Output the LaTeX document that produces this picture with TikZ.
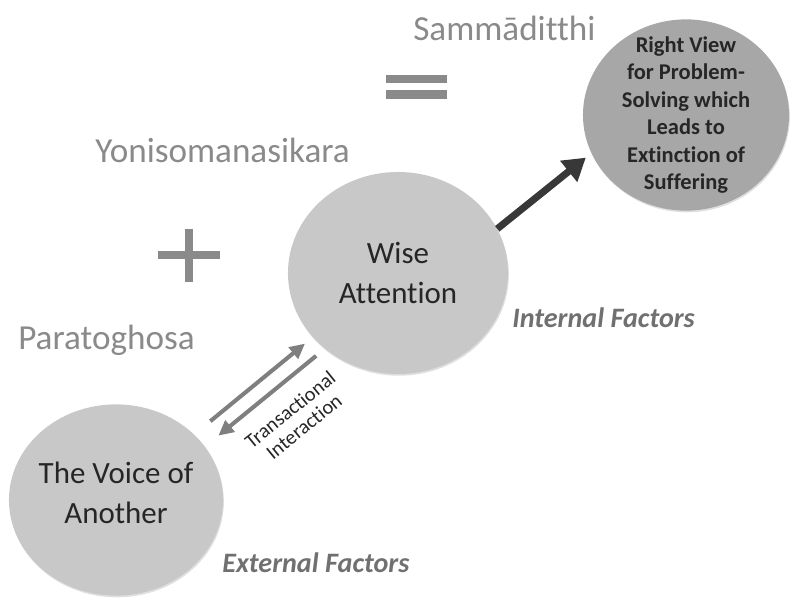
\documentclass[tikz,border=0pt]{standalone}
\usepackage{fontspec}
\setmainfont{Carlito}[Ligatures=NoCommon]
\usetikzlibrary{arrows.meta,shapes.geometric,shadows}
\definecolor{bubblelight}{HTML}{C8C8C8}
\definecolor{bubbledark}{HTML}{A7A7A7}
\definecolor{paligray}{HTML}{8A8A8A}
\definecolor{factorgray}{HTML}{707070}
\definecolor{talkgray}{HTML}{7F7F7F}
\definecolor{ink}{HTML}{262626}
\definecolor{arrowdark}{HTML}{383838}
\tikzset{
  bubble/.style={ellipse, fill=#1, text=ink, align=center, inner sep=-1cm,
    drop shadow={opacity=.25, shadow xshift=.6pt, shadow yshift=-1.2pt}},
  pali/.style={text=paligray, anchor=west, inner sep=0pt, font=\fontsize{25}{30}\selectfont},
  factor/.style={text=factorgray, anchor=west, inner sep=0pt, font=\bfseries\itshape\fontsize{20}{24}\selectfont},
  sign/.style={draw=paligray, line width=5.7pt},
  talk/.style={draw=talkgray, line width=2.9pt, -{Triangle[length=.38cm,width=.36cm]}},
}
\begin{document}
\begin{tikzpicture}[x=.025cm, y=-.025cm]
\useasboundingbox (0,0) rectangle (792,599);
% the three bubbles
\node[bubble=bubblelight, minimum width=5.35cm, minimum height=4.78cm, font=\fontsize{22}{28.5}\selectfont] (voice) at (116,500) {The Voice of\\Another\\[-18pt]};
\node[bubble=bubblelight, minimum width=5.5cm, minimum height=5.05cm, font=\fontsize{22}{28.5}\selectfont] (wise) at (398,273) {Wise\\Attention};
\node[bubble=bubbledark, minimum width=5.15cm, minimum height=4.78cm, font=\bfseries\fontsize{16}{19.5}\selectfont] (right) at (686,115) {Right View\\for Problem-\\Solving which\\Leads to\\Extinction of\\Suffering};
% connectors
\draw[talk, shorten <=.52cm, shorten >=.25cm] (voice.40) -- (wise.217);
\draw[talk, shorten <=.28cm, shorten >=.43cm] (wise.226) -- (voice.31);
\draw[arrowdark, line width=5pt, -{Triangle[length=.55cm,width=.65cm]}, shorten >=5pt] (wise.24) -- (right.202);
\node[rotate=39, text=ink, align=center, font=\fontsize{14.5}{15.5}\selectfont] (talklabel) at (297,418) {Transactional\\Interaction};
% pali terms and signs
\node[pali] (samma) at (413,28) {Sammāditthi};
\node[pali] (yoni) at (95,150) {Yonisomanasikara};
\node[pali] (parato) at (18,340) {Paratoghosa};
\draw[sign] (158,255) -- (220,255) (189,229) -- (189,282);
\foreach \y in {79,94.5}
{
   \draw[sign] (386,\y) -- (447,\y);
}
% factors
\node[factor] (inner) at (512,318) {Internal Factors};
\node[factor] (outer) at (222,563) {External Factors};
\end{tikzpicture}
\end{document}
